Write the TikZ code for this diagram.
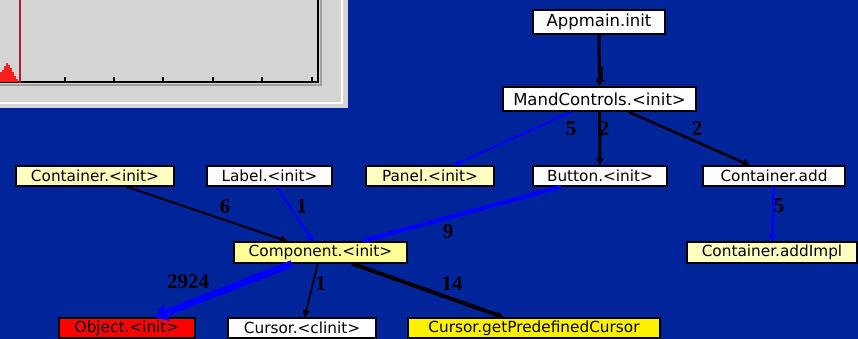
\documentclass[tikz,border=0pt]{standalone}
\usepackage{fontspec}
\newfontfamily\boxfont{DejaVu Sans}
\newfontfamily\numfont{Liberation Serif}
\usetikzlibrary{arrows.meta}
\definecolor{slideblue}{RGB}{0,36,153}
\definecolor{panelgray}{RGB}{212,212,212}
\definecolor{paleyellow}{RGB}{255,255,192}
\definecolor{compyellow}{RGB}{255,255,150}
\definecolor{callblue}{RGB}{0,0,255}
\definecolor{markred}{RGB}{165,30,60}

\begin{document}
\begin{tikzpicture}[
      x=1pt, y=-1pt,
      box/.style={draw=black, line width=1.4pt, fill=white, inner sep=0pt, minimum height=20,
        font=\boxfont\fontsize{15.3}{17}\selectfont},
      bigbox/.style={box, minimum height=24, font=\boxfont\fontsize{16.5}{18}\selectfont},
      call/.style={-{Triangle[length=7pt,width=7pt]}, draw=black, line width=2pt},
      bluecall/.style={call, draw=callblue, fill=callblue},
      num/.style={font=\numfont\bfseries\fontsize{21}{23}\selectfont, inner sep=0pt}
    ]

% Background and plot panel
      \useasboundingbox (0,0) rectangle (858,339);
      \fill[slideblue] (0,0) rectangle (858,339);
      \fill[panelgray] (0,0) rectangle (348,108);
      \draw[white, line width=1.5pt] (342,0) -- (342,103) -- (0,103);
      \draw[gray!75, line width=1.5pt] (0,85) -- (321,85) -- (321,0);
      \draw[black, line width=1.3pt] (0,82) -- (318,82) -- (318,0);
      \foreach \t in {65,114,163,213,262,312}
        \draw[black, line width=1.2pt] (\t,82) -- (\t,77);
      \foreach \a/\h in {0/72, 2/70, 4/66, 6/63, 8/65, 10/68, 12/72, 14/76, 16/79}
        \fill[red!85!pink] (\a,\h) rectangle ++(2,82-\h);
      \draw[markred, line width=1.6pt] (20,0) -- (20,83);

% Callers
      \node[bigbox] (app) at (599,22) [minimum width=132] {Appmain.init};
      \node[bigbox] (mand) at (599.5,99) [minimum width=193] {MandControls.<init>};

% Middle row
      \node[box, fill=paleyellow, minimum width=158] (cinit) at (95,176) {Container.<init>};
      \node[box, minimum width=125] (label) at (269.5,176) {Label.<init>};
      \node[box, fill=paleyellow, minimum width=128] (panel) at (430,176) {Panel.<init>};
      \node[box, minimum width=134] (button) at (600,176) {Button.<init>};
      \node[box, minimum width=142] (cadd) at (774,176) {Container.add};

      \node[box, fill=compyellow, minimum width=173, minimum height=21] (comp) at (320.5,252.5) {Component.<init>};
      \node[box, fill=paleyellow, minimum width=170, minimum height=21] (impl) at (772,252.5) {Container.addImpl};

% Bottom row
      \node[box, fill=red, minimum width=136] (obj) at (127,328) {Object.<init>};
      \node[box, minimum width=148] (cur) at (302,328) {Cursor.<clinit>};
      \node[box, fill=yellow, minimum width=252] (pre) at (534,328) {Cursor.getPredefinedCursor};

% Calls
      \draw[call, line width=3pt] (app) -- (mand) node[num] at (601,75) {1};
      \draw[call, line width=3pt] (mand) -- (button) node[num] at (604,129) {2};
      \draw[bluecall] (mand) -- (panel) node[num] at (571,129) {5};
      \draw[call, line width=2.5pt] (mand) -- (cadd) node[num] at (697,129) {2};
      \draw[bluecall, line width=2.5pt] (cadd) -- (impl) node[num] at (779,206) {5};

      \draw[call] (cinit) -- (comp) node[num] at (225,207) {6};
      \draw[bluecall] (label) -- (comp) node[num] at (301.5,207) {1};
      \draw[bluecall, line width=4pt] (button) -- (comp) node[num] at (448,232) {9};

      \draw[bluecall, line width=7pt, -{Triangle[length=13pt,width=17pt]}] (comp) -- (obj) node[num] at (188,282) {2924};
      \draw[call, line width=1.8pt] (comp) -- (cur) node[num] at (320.5,284) {1};
      \draw[call, line width=4pt] (comp) -- (pre) node[num] at (452,284) {14};
    \end{tikzpicture}
\end{document}
